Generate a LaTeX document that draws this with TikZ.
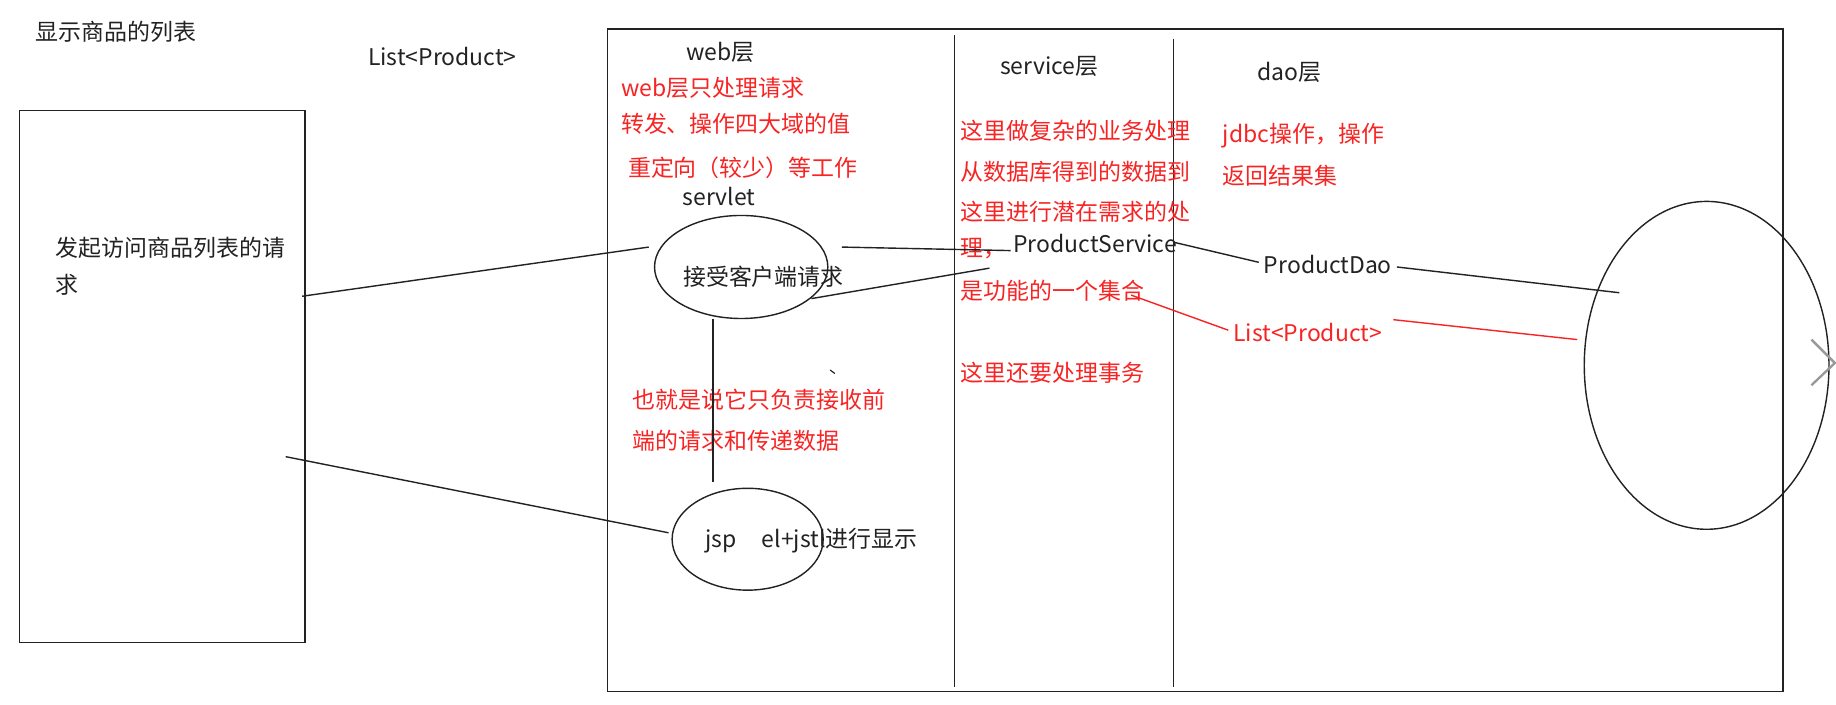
\documentclass[tikz,border=0pt]{standalone}
\usepackage{fontspec}
\setmainfont{Noto Sans CJK SC}
\usetikzlibrary{shapes.geometric}
\definecolor{inkred}{RGB}{248,36,36}
\definecolor{ink}{RGB}{34,34,34}
\begin{document}
\begin{tikzpicture}[x=0.5pt,y=-0.5pt,
  txt/.style={anchor=west,inner sep=0pt,font=\fontsize{9.8}{12}\selectfont,text=ink},
  rtxt/.style={txt,text=inkred},
  ctxt/.style={txt,anchor=center},
  ln/.style={draw=ink,line width=0.6pt},
  rln/.style={draw=inkred,line width=0.6pt},
  oval/.style={draw=ink,line width=0.6pt,ellipse,inner sep=0pt}]
\useasboundingbox[fill=white] (0,0) rectangle (1568,602);

% titles
\node[txt] (title) at (30,27) {显示商品的列表};
\node[txt] (listtop) at (314,48) {List<Product>};

% client box
\node[draw=ink,line width=0.6pt,minimum width=122pt,minimum height=227pt,inner sep=0pt,anchor=north west] (client) at (16,94) {};
\node[txt] (req1) at (47,212) {发起访问商品列表的请};
\node[txt] (req2) at (47,243) {求};

% server frame and layer separators
\node[draw=ink,line width=0.6pt,minimum width=502pt,minimum height=283pt,inner sep=0pt,anchor=north west] (server) at (518,24) {};
\coordinate (v1t) at (815,30); \coordinate (v1b) at (815,587);
\coordinate (v2t) at (1002,33); \coordinate (v2b) at (1002,587);
\draw[ln] (v1t) -- (v1b);
\draw[ln] (v2t) -- (v2b);

% web layer
\node[ctxt] (web) at (615,45) {web层};
\node[rtxt] (w1) at (530,75) {web层只处理请求};
\node[rtxt] (w2) at (530,106) {转发、操作四大域的值};
\node[rtxt] (w3) at (536,143) {重定向（较少）等工作};
\node[ctxt] (servletlbl) at (614,168) {servlet};
\node[oval,minimum width=74pt,minimum height=44pt] (srv) at (633,228) {};
\node[ctxt] (srvtxt) at (652,236) {接受客户端请求};
\node[rtxt] (w4) at (540,341) {也就是说它只负责接收前};
\node[rtxt] (w5) at (540,376) {端的请求和传递数据};
\node[oval,minimum width=64.5pt,minimum height=43.5pt] (jsp) at (638.5,460.5) {};
\node[txt] (jsptxt) at (602,462) {jsp\hspace{1.1em}el+jstl进行显示};

% service layer
\node[ctxt] (svc) at (896,57) {service层};
\node[rtxt] (s1) at (820,112) {这里做复杂的业务处理};
\node[rtxt] (s2) at (820,147) {从数据库得到的数据到};
\node[rtxt] (s3) at (820,181) {这里进行潜在需求的处};
\node[rtxt] (s4) at (820,212) {理，};
\node[txt] (ps) at (865,208) {ProductService};
\node[rtxt] (s5) at (820,248) {是功能的一个集合};
\node[rtxt] (s6) at (820,318) {这里还要处理事务};

% dao layer
\node[ctxt] (dao) at (1101,62) {dao层};
\node[rtxt] (d1) at (1044,116) {jdbc操作，操作};
\node[rtxt] (d2) at (1044,150) {返回结果集};
\node[txt] (pd) at (1079,226) {ProductDao};
\node[rtxt] (listr) at (1053,284) {List<Product>};

% database
\node[oval,minimum width=104.5pt,minimum height=140pt] (db) at (1457.5,312) {};

% connector end points
\coordinate (c1) at (258,253);
\coordinate (c2) at (554,211);
\coordinate (c3) at (244,390);
\coordinate (c4) at (571,455);
\coordinate (c5) at (719,211);
\coordinate (c6) at (863,214);
\coordinate (c7) at (693,255);
\coordinate (c8) at (845,229);
\coordinate (c9) at (1003,207);
\coordinate (c10) at (1075,224);
\coordinate (c11) at (1193,228);
\coordinate (c12) at (1383,250);
\coordinate (c13) at (966,252);
\coordinate (c14) at (1049,282);
\coordinate (c15) at (1190,273);
\coordinate (c16) at (1347,290);
\coordinate (c17) at (609,272);
\coordinate (c18) at (609,412);

\draw[ln] (c1) -- (c2);
\draw[ln] (c3) -- (c4);
\draw[ln] (c5) -- (c6);
\draw[ln] (c7) -- (c8);
\draw[ln] (c9) -- (c10);
\draw[ln] (c11) -- (c12);
\draw[ln] (c17) -- (c18);
\draw[rln] (c13) -- (c14);
\draw[rln] (c15) -- (c16);

% stray mark and chevron
\coordinate (t1) at (709,316); \coordinate (t2) at (713,319);
\draw[ln,line width=0.5pt] (t1) -- (t2);
\coordinate (ch1) at (1547,290); \coordinate (ch2) at (1567,310); \coordinate (ch3) at (1547,329);
\draw[draw=black!40,line width=1pt] (ch1) -- (ch2) -- (ch3);
\end{tikzpicture}
\end{document}
